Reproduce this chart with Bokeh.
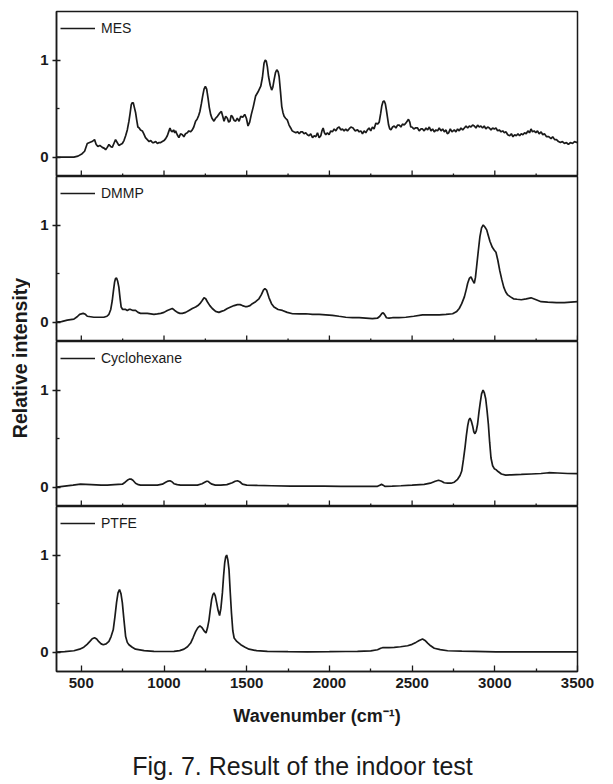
import math
from bokeh.plotting import figure
from bokeh.layouts import column, row
from bokeh.models import Range1d, FixedTicker, Label
from bokeh.embed import file_html
from bokeh.resources import INLINE

# ---------------- data ----------------
series_names = ["MES", "DMMP", "Cyclohexane", "PTFE"]

mes_wn = [350, 400, 455, 480, 505, 520, 536, 550, 565, 580, 590, 600, 612, 627, 640, 647, 657, 667, 677, 687,
          697, 707, 717, 727, 737, 748, 758, 768, 778, 788, 795, 802, 808, 814, 821, 828, 835, 842, 850, 858,
          869, 878, 888, 899, 910, 920, 930, 939, 950, 960, 970, 980, 990, 1000, 1010, 1020, 1028, 1036, 1043, 1050,
          1058, 1065, 1070, 1080, 1090, 1100, 1111, 1120, 1130, 1141, 1150, 1160, 1171, 1180, 1191, 1200, 1210, 1217, 1226, 1234,
          1242, 1250, 1258, 1266, 1274, 1282, 1290, 1302, 1312, 1323, 1335, 1347, 1355, 1363, 1373, 1383, 1391, 1399, 1406, 1413,
          1423, 1433, 1443, 1454, 1464, 1476, 1488, 1498, 1508, 1518, 1528, 1540, 1554, 1568, 1585, 1595, 1605, 1612, 1618, 1625,
          1632, 1642, 1651, 1658, 1665, 1674, 1682, 1690, 1696, 1704, 1712, 1719, 1726, 1735, 1746, 1756, 1766, 1775, 1785, 1797,
          1808, 1818, 1827, 1837, 1847, 1857, 1867, 1877, 1887, 1898, 1908, 1918, 1928, 1938, 1948, 1955, 1962, 1970, 1978, 1988,
          1998, 2008, 2018, 2029, 2039, 2049, 2059, 2069, 2079, 2089, 2099, 2109, 2119, 2130, 2143, 2155, 2170, 2180, 2190, 2200,
          2210, 2220, 2230, 2240, 2250, 2260, 2270, 2281, 2291, 2301, 2310, 2317, 2324, 2331, 2338, 2345, 2352, 2358, 2365, 2372,
          2382, 2392, 2402, 2412, 2422, 2432, 2442, 2452, 2462, 2470, 2478, 2486, 2492, 2499, 2510, 2520, 2533, 2543, 2553, 2563,
          2573, 2584, 2594, 2604, 2614, 2624, 2634, 2644, 2654, 2664, 2675, 2685, 2695, 2705, 2713, 2721, 2731, 2741, 2755, 2765,
          2775, 2785, 2795, 2806, 2816, 2826, 2836, 2846, 2856, 2866, 2876, 2886, 2896, 2906, 2916, 2926, 2936, 2946, 2957, 2967,
          2977, 2987, 2997, 3007, 3017, 3027, 3038, 3048, 3058, 3068, 3078, 3090, 3100, 3110, 3120, 3130, 3140, 3150, 3160, 3170,
          3180, 3190, 3200, 3210, 3219, 3228, 3238, 3248, 3258, 3268, 3280, 3290, 3300, 3313, 3326, 3340, 3350, 3362, 3373, 3385,
          3397, 3409, 3421, 3433, 3445, 3457, 3470, 3482, 3494, 3500]
mes_int = [0.00, 0.00, 0.00, 0.01, 0.035, 0.06, 0.14, 0.15, 0.16, 0.18, 0.13, 0.11, 0.12, 0.10, 0.09, 0.075, 0.10, 0.13, 0.11, 0.10,
           0.14, 0.18, 0.15, 0.12, 0.13, 0.14, 0.17, 0.22, 0.28, 0.37, 0.45, 0.54, 0.56, 0.56, 0.51, 0.46, 0.38, 0.31, 0.30, 0.28,
           0.27, 0.24, 0.20, 0.18, 0.16, 0.17, 0.15, 0.15, 0.16, 0.14, 0.15, 0.15, 0.16, 0.17, 0.19, 0.22, 0.26, 0.30, 0.27, 0.26,
           0.28, 0.25, 0.27, 0.23, 0.20, 0.24, 0.23, 0.21, 0.24, 0.25, 0.27, 0.26, 0.28, 0.31, 0.37, 0.39, 0.43, 0.47, 0.55, 0.63,
           0.70, 0.73, 0.70, 0.61, 0.51, 0.44, 0.40, 0.37, 0.40, 0.42, 0.45, 0.47, 0.42, 0.37, 0.42, 0.40, 0.36, 0.37, 0.43, 0.42,
           0.38, 0.37, 0.40, 0.37, 0.42, 0.41, 0.44, 0.40, 0.32, 0.36, 0.44, 0.52, 0.63, 0.67, 0.73, 0.82, 0.97, 1.00, 0.99, 0.93,
           0.83, 0.74, 0.69, 0.72, 0.79, 0.87, 0.90, 0.88, 0.83, 0.68, 0.52, 0.46, 0.42, 0.40, 0.38, 0.33, 0.30, 0.27, 0.26, 0.25,
           0.26, 0.24, 0.26, 0.26, 0.24, 0.25, 0.23, 0.22, 0.24, 0.20, 0.22, 0.21, 0.25, 0.20, 0.22, 0.27, 0.30, 0.25, 0.23, 0.25,
           0.23, 0.27, 0.26, 0.29, 0.27, 0.30, 0.31, 0.28, 0.29, 0.27, 0.29, 0.27, 0.29, 0.31, 0.30, 0.27, 0.28, 0.26, 0.27, 0.24,
           0.27, 0.25, 0.28, 0.30, 0.27, 0.31, 0.29, 0.35, 0.34, 0.36, 0.45, 0.53, 0.57, 0.58, 0.55, 0.48, 0.40, 0.33, 0.29, 0.28,
           0.31, 0.32, 0.30, 0.33, 0.33, 0.31, 0.34, 0.33, 0.35, 0.37, 0.39, 0.36, 0.31, 0.31, 0.29, 0.30, 0.30, 0.27, 0.29, 0.29,
           0.27, 0.30, 0.28, 0.31, 0.27, 0.29, 0.26, 0.28, 0.27, 0.30, 0.27, 0.29, 0.26, 0.28, 0.24, 0.25, 0.29, 0.26, 0.28, 0.26,
           0.29, 0.27, 0.30, 0.28, 0.30, 0.32, 0.30, 0.32, 0.31, 0.33, 0.32, 0.30, 0.33, 0.31, 0.32, 0.30, 0.32, 0.29, 0.31, 0.30,
           0.28, 0.30, 0.29, 0.30, 0.27, 0.28, 0.26, 0.27, 0.25, 0.26, 0.23, 0.22, 0.24, 0.21, 0.23, 0.22, 0.24, 0.22, 0.24, 0.23,
           0.25, 0.24, 0.27, 0.25, 0.29, 0.26, 0.27, 0.25, 0.27, 0.24, 0.26, 0.23, 0.24, 0.21, 0.21, 0.19, 0.21, 0.18, 0.18, 0.16,
           0.15, 0.16, 0.14, 0.15, 0.13, 0.15, 0.14, 0.16, 0.15, 0.155]

dmmp_wn = [350, 380, 415, 455, 475, 490, 511, 525, 536, 556, 576, 606, 636, 655, 667, 678, 687, 694, 701, 707,
           713, 720, 727, 734, 741, 750, 760, 768, 778, 788, 798, 813, 828, 843, 858, 878, 899, 920, 939, 960,
           980, 1000, 1020, 1035, 1050, 1065, 1081, 1096, 1111, 1131, 1151, 1171, 1191, 1205, 1217, 1230, 1242, 1252, 1262, 1277,
           1292, 1312, 1332, 1347, 1363, 1383, 1403, 1424, 1444, 1460, 1474, 1490, 1504, 1520, 1534, 1554, 1574, 1588, 1601, 1610,
           1620, 1635, 1650, 1665, 1690, 1716, 1745, 1777, 1817, 1857, 1898, 1938, 1978, 2018, 2058, 2099, 2140, 2180, 2220, 2260,
           2290, 2305, 2318, 2325, 2333, 2345, 2360, 2381, 2420, 2462, 2510, 2563, 2613, 2664, 2705, 2745, 2770, 2785, 2800, 2816,
           2828, 2836, 2846, 2856, 2866, 2876, 2883, 2890, 2900, 2910, 2920, 2930, 2940, 2951, 2961, 2971, 2985, 2997, 3007, 3018,
           3030, 3042, 3054, 3066, 3078, 3095, 3113, 3135, 3160, 3190, 3219, 3250, 3280, 3320, 3373, 3420, 3460, 3500]
dmmp_int = [0.00, 0.005, 0.02, 0.03, 0.055, 0.08, 0.09, 0.08, 0.06, 0.055, 0.05, 0.05, 0.05, 0.06, 0.08, 0.13, 0.22, 0.32, 0.41, 0.45,
            0.455, 0.42, 0.36, 0.25, 0.155, 0.13, 0.13, 0.13, 0.12, 0.13, 0.13, 0.12, 0.12, 0.10, 0.09, 0.09, 0.09, 0.085, 0.08, 0.085,
            0.09, 0.10, 0.12, 0.13, 0.14, 0.12, 0.10, 0.09, 0.09, 0.10, 0.12, 0.14, 0.155, 0.17, 0.19, 0.22, 0.25, 0.24, 0.21, 0.17,
            0.14, 0.11, 0.10, 0.11, 0.12, 0.14, 0.155, 0.17, 0.18, 0.18, 0.17, 0.16, 0.16, 0.17, 0.19, 0.21, 0.24, 0.28, 0.33, 0.345,
            0.33, 0.25, 0.19, 0.155, 0.13, 0.12, 0.10, 0.086, 0.085, 0.086, 0.08, 0.08, 0.075, 0.07, 0.06, 0.05, 0.045, 0.045, 0.04, 0.035,
            0.04, 0.06, 0.09, 0.095, 0.08, 0.045, 0.04, 0.045, 0.045, 0.05, 0.06, 0.075, 0.075, 0.075, 0.08, 0.086, 0.11, 0.14, 0.19, 0.26,
            0.34, 0.40, 0.45, 0.465, 0.43, 0.40, 0.46, 0.57, 0.73, 0.88, 0.97, 1.00, 0.98, 0.95, 0.89, 0.83, 0.77, 0.74, 0.72, 0.64,
            0.53, 0.44, 0.36, 0.31, 0.28, 0.26, 0.24, 0.235, 0.23, 0.24, 0.25, 0.23, 0.21, 0.205, 0.20, 0.20, 0.205, 0.21]

cyclo_wn = [350, 400, 450, 495, 560, 620, 657, 700, 748, 765, 778, 790, 800, 812, 828, 845, 858, 900, 960, 990,
            1010, 1025, 1036, 1048, 1060, 1080, 1100, 1150, 1202, 1230, 1246, 1258, 1266, 1276, 1290, 1310, 1343, 1380, 1413, 1430,
            1444, 1458, 1474, 1500, 1565, 1650, 1766, 1870, 1968, 2070, 2170, 2250, 2291, 2305, 2315, 2325, 2335, 2380, 2432, 2500,
            2573, 2610, 2640, 2660, 2678, 2694, 2715, 2735, 2755, 2775, 2790, 2800, 2810, 2820, 2828, 2836, 2843, 2850, 2858, 2866,
            2873, 2880, 2888, 2896, 2904, 2912, 2920, 2929, 2937, 2945, 2953, 2961, 2969, 2977, 2987, 2997, 3007, 3020, 3040, 3066,
            3100, 3160, 3220, 3280, 3326, 3380, 3440, 3500]
cyclo_int = [0.00, 0.01, 0.02, 0.03, 0.025, 0.02, 0.02, 0.025, 0.03, 0.05, 0.07, 0.082, 0.083, 0.07, 0.04, 0.025, 0.02, 0.02, 0.02, 0.03,
             0.05, 0.062, 0.065, 0.055, 0.035, 0.025, 0.02, 0.02, 0.02, 0.035, 0.05, 0.06, 0.06, 0.045, 0.03, 0.02, 0.02, 0.025, 0.045, 0.06,
             0.065, 0.055, 0.03, 0.02, 0.017, 0.014, 0.01, 0.01, 0.01, 0.008, 0.007, 0.007, 0.008, 0.02, 0.028, 0.02, 0.007, 0.01, 0.014, 0.02,
             0.028, 0.04, 0.06, 0.07, 0.06, 0.045, 0.04, 0.04, 0.05, 0.08, 0.12, 0.165, 0.28, 0.41, 0.53, 0.63, 0.69, 0.71, 0.68, 0.63,
             0.57, 0.55, 0.58, 0.65, 0.77, 0.87, 0.96, 1.00, 0.97, 0.91, 0.79, 0.65, 0.46, 0.30, 0.22, 0.19, 0.18, 0.16, 0.135, 0.124,
             0.126, 0.13, 0.135, 0.14, 0.148, 0.145, 0.14, 0.138]

ptfe_wn = [350, 400, 455, 490, 515, 535, 552, 566, 580, 593, 606, 620, 633, 650, 667, 680, 693, 703, 713, 722,
           731, 740, 748, 758, 768, 778, 788, 808, 828, 880, 939, 1000, 1060, 1095, 1121, 1142, 1161, 1176, 1191, 1204,
           1217, 1228, 1238, 1246, 1254, 1263, 1272, 1280, 1288, 1295, 1302, 1310, 1318, 1327, 1336, 1344, 1353, 1360, 1367, 1373,
           1379, 1386, 1393, 1400, 1408, 1416, 1424, 1440, 1464, 1490, 1514, 1560, 1625, 1750, 1867, 2000, 2100, 2170, 2250, 2291,
           2310, 2321, 2360, 2392, 2430, 2473, 2500, 2523, 2543, 2563, 2578, 2594, 2612, 2634, 2670, 2715, 2800, 2876, 3007, 3200,
           3350, 3500]
ptfe_int = [0.00, 0.005, 0.014, 0.03, 0.05, 0.08, 0.11, 0.138, 0.148, 0.135, 0.107, 0.085, 0.076, 0.085, 0.11, 0.16, 0.23, 0.36, 0.51, 0.61,
            0.645, 0.60, 0.51, 0.33, 0.16, 0.10, 0.076, 0.05, 0.03, 0.015, 0.007, 0.006, 0.007, 0.015, 0.03, 0.055, 0.093, 0.15, 0.21, 0.25,
            0.27, 0.255, 0.23, 0.21, 0.197, 0.25, 0.33, 0.44, 0.54, 0.59, 0.61, 0.58, 0.51, 0.43, 0.376, 0.45, 0.61, 0.78, 0.92, 0.98,
            1.00, 0.95, 0.85, 0.63, 0.40, 0.22, 0.145, 0.11, 0.076, 0.05, 0.03, 0.015, 0.007, 0.004, 0.003, 0.004, 0.006, 0.007, 0.012, 0.024,
            0.04, 0.045, 0.046, 0.048, 0.055, 0.065, 0.08, 0.10, 0.12, 0.134, 0.12, 0.093, 0.065, 0.04, 0.025, 0.014, 0.009, 0.007, 0.003, 0.003,
            0.003, 0.003]

x_major_ticks = [500, 1000, 1500, 2000, 2500, 3000, 3500]
x_minor_ticks = [750, 1250, 1750, 2250, 2750, 3250]
x_tick_labels = ["500", "1000", "1500", "2000", "2500", "3000", "3500"]
y_major_ticks = [0, 1]
y_minor_ticks = [0.5]
y_tick_labels = ["0", "1"]
x_title = "Wavenumber (cm\u207b\u00b9)"
y_title = "Relative intensity"
caption = "Fig. 7. Result of the indoor test"

# ---------------- styling / layout ----------------
FONT = "Liberation Sans"
INK = "#1a1a1a"
PAGE_H = 784
LEFT_STRIP = 30
FRAME_W = 521
FRAME_H = 165
BORDER_L = 26
BORDER_R = 22
BOTTOM_BORDER = 62
TOP_BORDER = 11
X0, X1 = 350, 3500
Y0, Y1 = -0.2, 1.5
PX_PER_Y = FRAME_H / (Y1 - Y0)
MAJOR_IN_PX = 6
MINOR_IN_PX = 3


def style_yaxis(p):
    ya = p.yaxis[0]
    ya.ticker = FixedTicker(ticks=y_major_ticks, minor_ticks=y_minor_ticks)
    ya.major_label_overrides = {t: l for t, l in zip(y_major_ticks, y_tick_labels)}
    ya.axis_line_color = INK
    ya.axis_line_width = 1.5
    ya.major_tick_line_color = INK
    ya.major_tick_line_width = 1.3
    ya.minor_tick_line_color = INK
    ya.minor_tick_line_width = 1.3
    ya.major_tick_in = 4
    ya.major_tick_out = 4
    ya.minor_tick_in = 3
    ya.minor_tick_out = 0
    ya.major_label_text_font = FONT
    ya.major_label_text_font_size = "15px"
    ya.major_label_text_font_style = "bold"
    ya.major_label_text_color = INK
    ya.major_label_standoff = 4


def make_panel(name, wn, inten, first, last):
    p = figure(frame_width=FRAME_W, frame_height=FRAME_H,
               x_range=Range1d(X0, X1), y_range=Range1d(Y0, Y1),
               output_backend="svg", toolbar_location=None,
               x_axis_location="below" if last else None,
               min_border_left=BORDER_L, min_border_right=BORDER_R,
               min_border_top=TOP_BORDER if first else 0,
               min_border_bottom=BOTTOM_BORDER if last else 0)
    p.line(wn, inten, line_color=INK, line_width=1.7, legend_label=name)
    p.xgrid.visible = False
    p.ygrid.visible = False
    p.outline_line_color = INK
    p.outline_line_width = 1.5
    p.outline_line_alpha = 1.0
    p.background_fill_color = "white"
    p.border_fill_color = "white"

    if last:
        xa = p.xaxis[0]
        xa.ticker = FixedTicker(ticks=x_major_ticks, minor_ticks=x_minor_ticks)
        xa.major_label_overrides = {t: l for t, l in zip(x_major_ticks, x_tick_labels)}
        xa.axis_line_color = INK
        xa.axis_line_width = 1.5
        xa.major_tick_line_color = INK
        xa.major_tick_line_width = 1.3
        xa.minor_tick_line_color = INK
        xa.minor_tick_line_width = 1.3
        xa.major_tick_in = MAJOR_IN_PX
        xa.major_tick_out = 0
        xa.minor_tick_in = MINOR_IN_PX
        xa.minor_tick_out = 0
        xa.major_label_text_font = FONT
        xa.major_label_text_font_size = "15px"
        xa.major_label_text_font_style = "bold"
        xa.major_label_text_color = INK
        xa.major_label_standoff = 6
        xa.axis_label = x_title
        xa.axis_label_text_font = FONT
        xa.axis_label_text_font_size = "18px"
        xa.axis_label_text_font_style = "bold"
        xa.axis_label_text_color = INK
        xa.axis_label_standoff = 15
    else:
        # inward ticks on the shared separator line, placed at the same tick values
        p.segment(x0=x_major_ticks, y0=[Y0] * len(x_major_ticks),
                  x1=x_major_ticks, y1=[Y0 + MAJOR_IN_PX / PX_PER_Y] * len(x_major_ticks),
                  line_color=INK, line_width=1.3)
        p.segment(x0=x_minor_ticks, y0=[Y0] * len(x_minor_ticks),
                  x1=x_minor_ticks, y1=[Y0 + MINOR_IN_PX / PX_PER_Y] * len(x_minor_ticks),
                  line_color=INK, line_width=1.3)

    style_yaxis(p)

    lg = p.legend[0]
    lg.location = "top_left"
    lg.margin = 4
    lg.padding = 5
    lg.border_line_color = None
    lg.background_fill_alpha = 0
    lg.glyph_width = 35
    lg.glyph_height = 26
    lg.label_height = 26
    lg.label_standoff = 6
    lg.label_text_font = FONT
    lg.label_text_font_size = "14px"
    lg.label_text_color = INK
    return p


series = [(series_names[0], mes_wn, mes_int),
          (series_names[1], dmmp_wn, dmmp_int),
          (series_names[2], cyclo_wn, cyclo_int),
          (series_names[3], ptfe_wn, ptfe_int)]
panels = [make_panel(n, w, v, i == 0, i == len(series) - 1) for i, (n, w, v) in enumerate(series)]

col_height = TOP_BORDER + 4 * FRAME_H + BOTTOM_BORDER
total_width = LEFT_STRIP + BORDER_L + FRAME_W + BORDER_R

# left strip holding the shared y-axis title (pixel coordinates)
ylab = figure(width=LEFT_STRIP, height=col_height, x_range=Range1d(0, LEFT_STRIP),
              y_range=Range1d(0, col_height), output_backend="svg", toolbar_location=None,
              x_axis_location=None, y_axis_location=None,
              min_border_left=0, min_border_right=0, min_border_top=0, min_border_bottom=0)
ylab.outline_line_color = None
ylab.xgrid.visible = False
ylab.ygrid.visible = False
ylab.add_layout(Label(x=19.5, y=col_height - 357.5, text=y_title, angle=math.pi / 2,
                      text_align="center", text_baseline="middle", text_font=FONT,
                      text_font_size="19.5px", text_font_style="bold", text_color=INK))

# caption strip
CAP_H = PAGE_H - col_height
cap = figure(width=total_width, height=CAP_H, x_range=Range1d(0, total_width),
             y_range=Range1d(0, CAP_H), output_backend="svg", toolbar_location=None,
             x_axis_location=None, y_axis_location=None,
             min_border_left=0, min_border_right=0, min_border_top=0, min_border_bottom=0)
cap.outline_line_color = None
cap.xgrid.visible = False
cap.ygrid.visible = False
cap.add_layout(Label(x=302, y=19, text=caption, text_align="center", text_baseline="middle",
                     text_font=FONT, text_font_size="25px", text_color=INK))

layout = column(row(ylab, column(*panels)), cap)

open("out.html", "w").write(file_html(layout, INLINE))
